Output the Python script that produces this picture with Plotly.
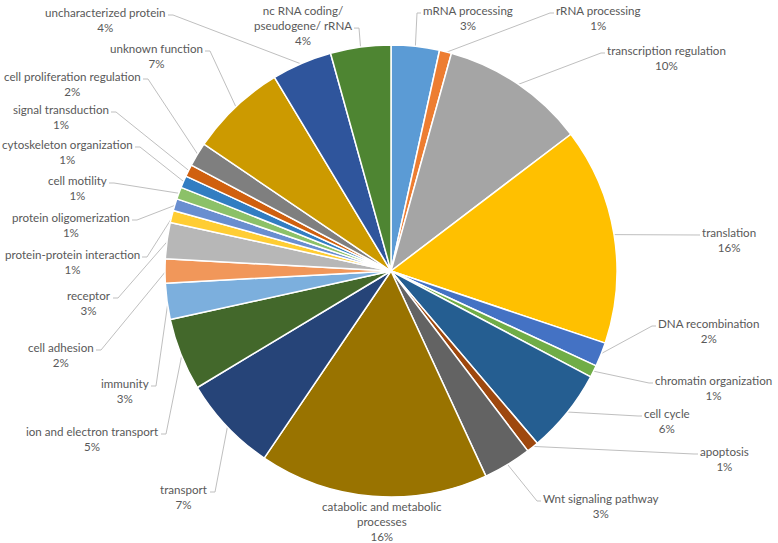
import math
import plotly.graph_objects as go

# ---- data ----
categories = [
    "mRNA processing", "rRNA processing", "transcription regulation", "translation",
    "DNA recombination", "chromatin organization", "cell cycle", "apoptosis",
    "Wnt signaling pathway", "catabolic and metabolic processes", "transport",
    "ion and electron transport", "immunity", "cell adhesion", "receptor",
    "protein-protein interaction", "protein oligomerization", "cell motility",
    "cytoskeleton organization", "signal transduction", "cell proliferation regulation",
    "unknown function", "uncharacterized protein", "nc RNA coding/ pseudogene/ rRNA",
]
counts = [4, 1, 12, 18, 2, 1, 7, 1, 4, 19, 8, 6, 3, 2, 3, 1, 1, 1, 1, 1, 2, 8, 5, 5]

# label display text (line breaks as in the original)
label_text = [
    "mRNA processing", "rRNA processing", "transcription regulation", "translation",
    "DNA recombination", "chromatin organization", "cell cycle", "apoptosis",
    "Wnt signaling pathway", "catabolic and metabolic<br>processes", "transport",
    "ion and electron transport", "immunity", "cell adhesion", "receptor",
    "protein-protein interaction", "protein oligomerization", "cell motility",
    "cytoskeleton organization", "signal transduction", "cell proliferation regulation",
    "unknown function", "uncharacterized protein", "nc RNA coding/<br>pseudogene/ rRNA",
]

colors = [
    "#5B9BD5", "#ED7D31", "#A5A5A5", "#FFC000", "#4472C4", "#70AD47",
    "#255E91", "#9E480E", "#636363", "#997300", "#264478", "#43682B",
    "#7CAFDD", "#F1975A", "#B7B7B7", "#FFCD33", "#698ED0", "#8CC168",
    "#327DC2", "#D0600F", "#7F7F7F", "#CC9A00", "#2F559C", "#4E8532",
]

# ---- layout constants (pixels) ----
W, H = 778, 543
CX, CY, R = 391, 271, 226
# label placement: side ('R' text right of attach, 'L' text left, 'C' centered),
# attach x, first-line centre y, line index the leader attaches to
label_pos = [
    ("R", 421, 10, 0), ("R", 554, 10, 0), ("R", 605, 50, 0), ("R", 700, 232, 0),
    ("R", 656, 323, 0), ("R", 653, 380, 0), ("R", 642, 413, 0), ("R", 698, 451, 0),
    ("R", 541, 498, 0), ("C", 382, 506, None), ("L", 210, 489, 0),
    ("L", 161, 431, 0), ("L", 151, 383, 0), ("L", 96, 347, 0), ("L", 113, 295, 0),
    ("L", 142, 254, 0), ("L", 132, 217, 0), ("L", 109, 180, 0),
    ("L", 135, 144, 0), ("L", 111, 109, 0), ("L", 143, 76, 0),
    ("L", 205, 48, 0), ("L", 168, 12, 0), ("L", 354, 10, 1),
]
FS = 11.6
LH = FS * 1.3
FONT = dict(family="Lato, 'Open Sans', sans-serif", size=FS, color="#595959")

total = sum(counts)
pcts = [round(100 * v / total) for v in counts]

fig = go.Figure()

fig.add_trace(go.Pie(
    labels=categories, values=counts, sort=False, direction="clockwise", rotation=0,
    marker=dict(colors=colors, line=dict(color="white", width=1.5)),
    textinfo="none", hoverinfo="label+percent", showlegend=False,
    domain=dict(x=[(CX - R) / W, (CX + R) / W], y=[(H - CY - R) / H, (H - CY + R) / H]),
))

# leader lines, computed from slice mid-angles
lx, ly = [], []
acc = 0.0
annotations = []
for i, v in enumerate(counts):
    a0 = acc / total * 360
    acc += v
    a1 = acc / total * 360
    mid = math.radians((a0 + a1) / 2)
    px = CX + (R - 1) * math.sin(mid)
    py = CY - (R - 1) * math.cos(mid)
    side, ax, fy, li = label_pos[i]
    nlines = label_text[i].count("<br>") + 2
    text = f"{label_text[i]}<br>{pcts[i]}%"
    ymid = fy + (nlines - 1) * LH / 2
    if side == "C":
        annotations.append(dict(x=ax, y=ymid, xref="x", yref="y", text=text, showarrow=False,
                                xanchor="center", yanchor="middle", align="center",
                                font=FONT, borderpad=0))
        continue
    ay = fy + li * LH + 3
    if side == "R":
        sx = ax - 4
        annotations.append(dict(x=ax + 1, y=ymid, xref="x", yref="y", text=text, showarrow=False,
                                xanchor="left", yanchor="middle", align="center",
                                font=FONT, borderpad=0))
    else:
        sx = ax + 5
        annotations.append(dict(x=ax - 1, y=ymid, xref="x", yref="y", text=text, showarrow=False,
                                xanchor="right", yanchor="middle", align="center",
                                font=FONT, borderpad=0))
    lx += [ax, sx, px, None]
    ly += [ay, ay, py, None]

fig.add_trace(go.Scatter(x=lx, y=ly, mode="lines", line=dict(color="#BFBFBF", width=1),
                         hoverinfo="skip", showlegend=False))

fig.update_layout(
    width=W, height=H, margin=dict(l=0, r=0, t=0, b=0),
    paper_bgcolor="white", plot_bgcolor="rgba(0,0,0,0)",
    xaxis=dict(range=[0, W], visible=False, fixedrange=True),
    yaxis=dict(range=[H, 0], visible=False, fixedrange=True),
    annotations=annotations,
)

fig.write_html("out.html", config={"displayModeBar": False},
               post_script="document.body.style.margin='0px';")
